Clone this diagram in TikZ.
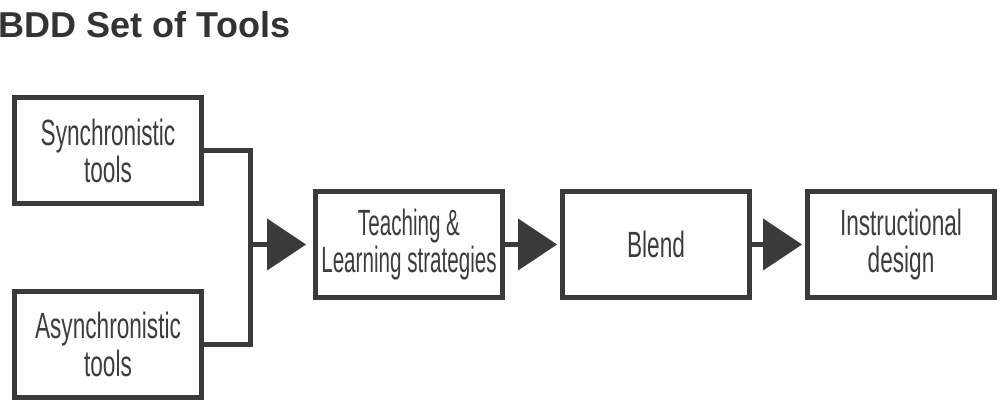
\documentclass[tikz,border=0pt]{standalone}
\usepackage{fontspec}
\setmainfont{Liberation Sans}
\newfontfamily\boxfont[FakeStretch=0.62]{Liberation Sans}
\newfontfamily\boxfontnarrow[FakeStretch=0.565]{Liberation Sans}
\usetikzlibrary{arrows.meta}
\definecolor{linegray}{HTML}{3A3A3A}
\definecolor{textgray}{HTML}{3D3D3D}
\definecolor{titlegray}{HTML}{333333}
\tikzset{
  stepbox/.style={draw=linegray, line width=5pt, fill=white, minimum width=187pt,
    minimum height=106pt, inner sep=0pt, align=center, text=textgray,
    font=\boxfont\fontsize{36.5}{37.5}\selectfont},
  conn/.style={draw=linegray, line width=5pt, line join=miter},
  bigtip/.style={-{Triangle[length=39pt,width=52pt,line width=0pt]}}
}
\begin{document}
\begin{tikzpicture}[x=1pt,y=-1pt]
\useasboundingbox (0,0) rectangle (1000,403);
\node[anchor=base west, inner sep=0pt, text=titlegray,
  font=\bfseries\fontsize{36}{40}\selectfont] (title) at (-1.5,38) {BDD Set of Tools};
\node[stepbox] (sync) at (108,151) {Synchronistic\\tools};
\node[stepbox] (async) at (108,344.5) {Asynchronistic\\tools};
\node[stepbox, font=\boxfontnarrow\fontsize{36.5}{37.5}\selectfont] (teach) at (409,244.5) {Teaching \&\\Learning strategies};
\node[stepbox] (blend) at (656,244.5) {Blend};
\node[stepbox] (instr) at (901,244.5) {Instructional\\design};
\coordinate (m) at (250,244.5);
\draw[conn] (sync.east) -| (m) |- (async.east);
\draw[conn, bigtip, shorten >=7pt] (m) -- (teach.west);
\draw[conn, bigtip, shorten >=3pt] (teach.east) -- (blend.west);
\draw[conn, bigtip, shorten >=3pt] (blend.east) -- (instr.west);
\end{tikzpicture}
\end{document}
